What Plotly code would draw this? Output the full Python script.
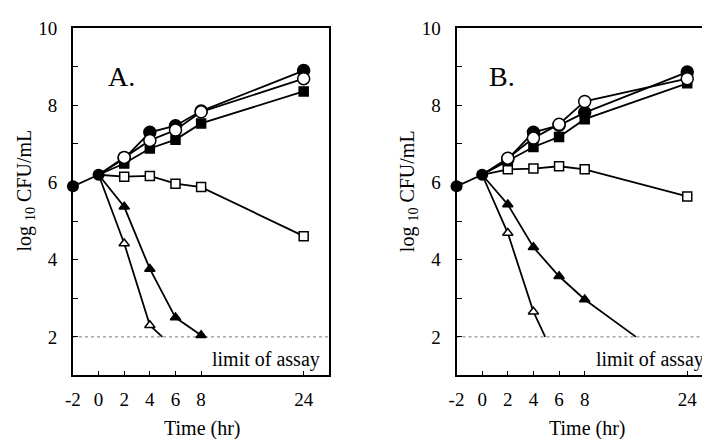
import plotly.graph_objects as go

# ---------------- data ----------------
TIMES = [2, 4, 6, 8, 24]            # hours
BASE_T = [-2, 0]
TICK_HOURS = [-2, 0, 2, 4, 6, 8, 24]
TICK_LABELS = ["-2", "0", "2", "4", "6", "8", "24"]
Y_TICKS = [2, 4, 6, 8, 10]
Y_LABELS = ["2", "4", "6", "8", "10"]
Y_MINOR = [1, 3, 5, 7, 9]
ASSAY_LIMIT = 2.0

# Panel A
A_base = [5.9, 6.2]
A_filled_circle = [6.62, 7.30, 7.47, 7.85, 8.90]
A_open_circle = [6.65, 7.09, 7.36, 7.83, 8.69]
A_filled_square = [6.49, 6.88, 7.11, 7.53, 8.36]
A_open_square = [6.15, 6.17, 5.97, 5.88, 4.61]
A_filled_tri_t = [2, 4, 6, 8]
A_filled_tri = [5.37, 3.76, 2.50, 2.04]
A_filled_tri_end = None
A_open_tri_t = [2, 4]
A_open_tri = [4.42, 2.30]
A_open_tri_end = 4.97      # hour where line meets assay limit

# Panel B
B_base = [5.9, 6.2]
B_filled_circle = [6.61, 7.30, 7.48, 7.81, 8.86]
B_open_circle = [6.63, 7.15, 7.51, 8.10, 8.69]
B_filled_square = [6.55, 6.92, 7.18, 7.64, 8.57]
B_open_square = [6.34, 6.36, 6.42, 6.34, 5.64]
B_filled_tri_t = [2, 4, 6, 8]
B_filled_tri = [5.43, 4.32, 3.57, 2.97]
B_filled_tri_end = 16.0
B_open_tri_t = [2, 4]
B_open_tri = [4.69, 2.65]
B_open_tri_end = 4.92

FONT = "Liberation Serif, Times New Roman, serif"
W, H = 702, 439


def disp(t):
    """broken time axis: 0-8 h linear, beyond 8 h compressed by half"""
    return t if t <= 8 else 8 + (t - 8) / 2


fig = go.Figure()


def add_series(xa, ya, t, vals, y0, symbol, filled, size, end=None):
    xs = [disp(0)] + [disp(v) for v in t]
    ys = [y0] + list(vals)
    sizes = [0] + [size] * len(t)
    if end is not None:
        xs.append(disp(end))
        ys.append(ASSAY_LIMIT)
        sizes.append(0)
    fig.add_trace(go.Scatter(
        x=xs, y=ys, xaxis=xa, yaxis=ya, mode="lines+markers",
        line=dict(color="black", width=1.8),
        marker=dict(symbol=symbol, size=sizes, opacity=1,
                    color="black" if filled else "white",
                    line=dict(color="black", width=1.5)),
        showlegend=False, cliponaxis=False))


def add_panel(xa, ya, base, fc, oc, fs, os_, ftt, ft, fte, ott, ot, ote):
    # assay limit line
    fig.add_trace(go.Scatter(
        x=[disp(-2), 30], y=[ASSAY_LIMIT, ASSAY_LIMIT], xaxis=xa, yaxis=ya,
        mode="lines", line=dict(color="#777777", width=1, dash="dot"),
        showlegend=False, hoverinfo="skip"))
    y0 = base[1]
    add_series(xa, ya, ftt, ft, y0, "triangle-up", True, 9, fte)
    add_series(xa, ya, ott, ot, y0, "triangle-up", False, 9, ote)
    add_series(xa, ya, TIMES, os_, y0, "square", False, 9)
    add_series(xa, ya, TIMES, fs, y0, "square", True, 9)
    add_series(xa, ya, TIMES, fc, y0, "circle", True, 12)
    add_series(xa, ya, TIMES, oc, y0, "circle", False, 12)
    fig.add_trace(go.Scatter(
        x=[disp(t) for t in BASE_T], y=base, xaxis=xa, yaxis=ya,
        mode="lines+markers", line=dict(color="black", width=1.8),
        marker=dict(symbol="circle", size=12, color="black", opacity=1),
        showlegend=False, cliponaxis=False))


add_panel("x", "y", A_base, A_filled_circle, A_open_circle, A_filled_square,
          A_open_square, A_filled_tri_t, A_filled_tri, A_filled_tri_end,
          A_open_tri_t, A_open_tri, A_open_tri_end)
add_panel("x2", "y2", B_base, B_filled_circle, B_open_circle, B_filled_square,
          B_open_square, B_filled_tri_t, B_filled_tri, B_filled_tri_end,
          B_open_tri_t, B_open_tri, B_open_tri_end)

tickfont = dict(family=FONT, size=19, color="black")
xcommon = dict(tickmode="array", tickvals=[disp(t) for t in TICK_HOURS],
               ticktext=TICK_LABELS, ticks="inside", ticklen=4,
               tickcolor="black", tickwidth=1, showline=True, linecolor="black",
               linewidth=2, showgrid=False, zeroline=False, tickfont=tickfont,
               ticklabelstandoff=6)
ycommon = dict(tickmode="array", tickvals=Y_TICKS, ticktext=Y_LABELS,
               ticks="inside", ticklen=5, tickcolor="black", tickwidth=1,
               minor=dict(tickmode="array", tickvals=Y_MINOR, ticks="inside",
                          ticklen=5, tickcolor="black", tickwidth=1,
                          showgrid=False),
               showline=True, linecolor="black", linewidth=2, showgrid=False,
               zeroline=False, tickfont=tickfont, range=[1, 10],
               ticklabelstandoff=10)

ybot, ytop = 374, 18.5
ydom = [(H - ybot) / H, (H - ytop) / H]
px_per_unit = (325 - 65.7) / 20.0
xB0 = 453.7
xB_max = -2 + (W - xB0) / px_per_unit

fig.update_layout(
    width=W, height=H, margin=dict(l=0, r=0, t=0, b=0),
    paper_bgcolor="white", plot_bgcolor="white",
    font=dict(family=FONT, color="black"),
    xaxis=dict(domain=[65.7 / W, 325 / W], range=[-2, 18], mirror=True,
               anchor="y", **xcommon),
    yaxis=dict(domain=ydom, mirror=True, anchor="x", **ycommon),
    xaxis2=dict(domain=[xB0 / W, 1.0], range=[-2, xB_max], mirror=True,
                anchor="y2", **xcommon),
    yaxis2=dict(domain=ydom, mirror=False, anchor="x2", **ycommon),
)

ann = []
for xc, letter, lx, tx in [(18, "A.", 99, 196.7), (405, "B.", 485, 585.8)]:
    ann.append(dict(text="log <sub>10</sub> CFU/mL", textangle=-90,
                    x=xc / W, y=1 - 185 / H, xref="paper", yref="paper",
                    xanchor="center", yanchor="middle", showarrow=False,
                    font=dict(family=FONT, size=20, color="black")))
    ann.append(dict(text=letter, x=lx / W, y=1 - 68 / H, xref="paper",
                    yref="paper", xanchor="left", yanchor="middle",
                    showarrow=False,
                    font=dict(family=FONT, size=28, color="black")))
    ann.append(dict(text="Time (hr)", x=tx / W, y=1 - 428 / H, xref="paper",
                    yref="paper", xanchor="center", yanchor="middle",
                    showarrow=False,
                    font=dict(family=FONT, size=20, color="black")))
for xr, yr in [("x", "y"), ("x2", "y2")]:
    ann.append(dict(text="limit of assay", x=8.7, y=1.42, xref=xr, yref=yr,
                    xanchor="left", yanchor="middle", showarrow=False,
                    font=dict(family=FONT, size=20, color="black")))
fig.update_layout(annotations=ann)

fig.write_html("out.html")
